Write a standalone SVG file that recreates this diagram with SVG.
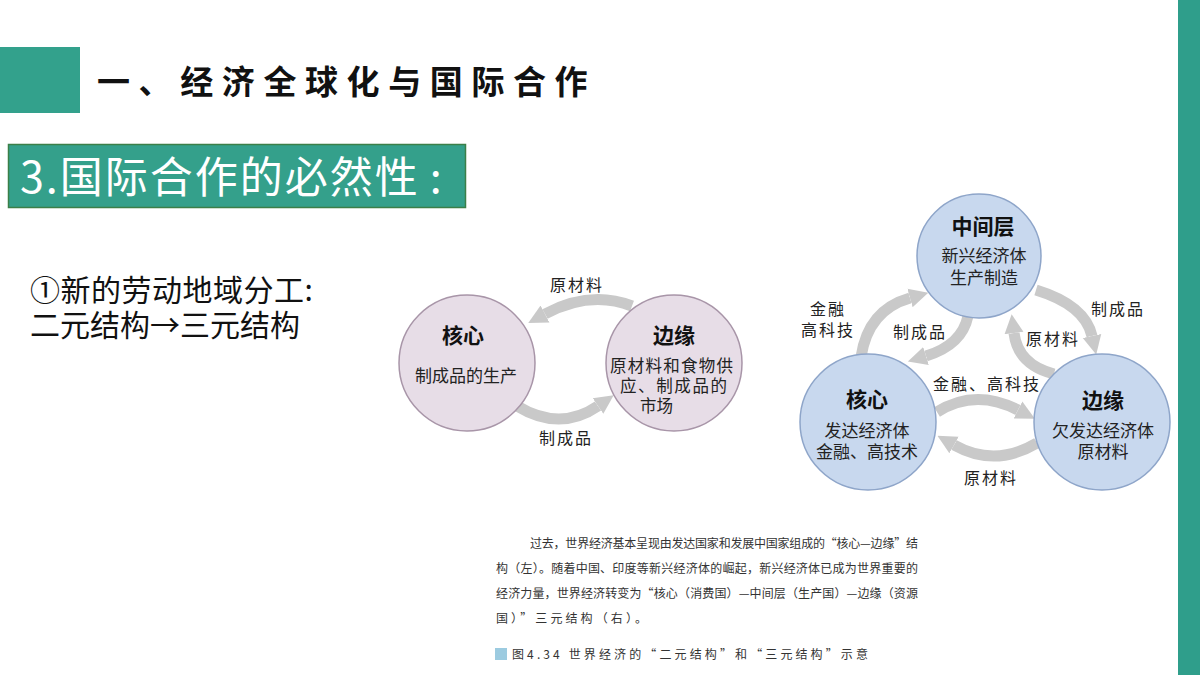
<svg xmlns="http://www.w3.org/2000/svg" width="1200" height="675" viewBox="0 0 1200 675">
<defs>
<style>
.cjk{font-family:"Noto Sans CJK SC","Liberation Sans",sans-serif}
.arr{fill:none;stroke:#c9c9c9;stroke-width:11;marker-end:url(#ah)}
.pc{fill:#e7dde7;stroke:#a895a8;stroke-width:1.5}
.bc{fill:#c8d8ee;stroke:#8ea5c9;stroke-width:1.5}
.ttl{font-size:21px;font-weight:bold;fill:#111;text-anchor:middle}
.sub{font-size:17px;fill:#222;text-anchor:middle}
.lbl{font-size:16px;fill:#222;text-anchor:middle;letter-spacing:2px}
.cap{font-size:12px;fill:#333}
</style>
<marker id="ah" viewBox="0 0 10 10" refX="0" refY="5" markerUnits="userSpaceOnUse" markerWidth="19" markerHeight="25" orient="auto">
<path d="M0,0 L10,5 L0,10 z" fill="#c9c9c9"/>
</marker>
</defs>
<rect width="1200" height="675" fill="#ffffff"/>
<rect x="1178" y="0" width="22" height="675" fill="#2f9e8b"/>
<g id="header">
<rect x="0" y="47" width="80" height="66" fill="#33a18c"/>
<text class="cjk" x="97" y="94" font-size="33" font-weight="bold" letter-spacing="8.6" fill="#111">一、经济全球化与国际合作</text>
</g>
<g id="subtitle">
<rect x="8.5" y="144.5" width="457" height="63" fill="#34a08b" stroke="#3b7f48" stroke-width="1.5"/>
<text class="cjk" x="20" y="193" font-size="43" letter-spacing="2" fill="#ffffff">3.国际合作的必然性<tspan dx="10">:</tspan></text>
</g>
<g id="point">
<text class="cjk" x="30" y="301" font-size="30" letter-spacing="0.5" fill="#111">①新的劳动地域分工:</text>
<text class="cjk" x="30" y="336" font-size="30" fill="#111">二元结构→三元结构</text>
</g>
<g id="connectors">
<path class="arr" d="M632,306 Q590,290 545,314"/>
<path class="arr" d="M517,406 Q560,432 598,406"/>
<path class="arr" d="M861,357 Q868,310 910,298"/>
<path class="arr" d="M968,316 Q962,345 926,356"/>
<path class="arr" d="M1036,290 Q1085,305 1092,336"/>
<path class="arr" d="M1054,374 Q1018,365 1014,333"/>
<path class="arr" d="M937,412 Q975,388 1018,410"/>
<path class="arr" d="M1037,443 Q995,468 954,445"/>
</g>
<g id="connector-labels" class="cjk">
<text class="lbl" x="577" y="291">原材料</text>
<text class="lbl" x="566" y="444">制成品</text>
<text class="lbl" x="828" y="315">金融</text>
<text class="lbl" x="828" y="336">高科技</text>
<text class="lbl" x="920" y="338">制成品</text>
<text class="lbl" x="1118" y="315">制成品</text>
<text class="lbl" x="1053" y="345">原材料</text>
<text class="lbl" x="987" y="390">金融、高科技</text>
<text class="lbl" x="991" y="484">原材料</text>
</g>
<g id="node-core2" class="cjk">
<circle class="pc" cx="467" cy="363" r="68"/>
<text class="ttl" x="463" y="343">核心</text>
<text class="sub" x="466" y="382">制成品的生产</text>
</g>
<g id="node-edge2" class="cjk">
<circle class="pc" cx="674" cy="363" r="68"/>
<text class="ttl" x="674" y="343">边缘</text>
<text font-size="16.5" fill="#222" x="610" y="372" textLength="123" lengthAdjust="spacing">原材料和食物供</text>
<text font-size="16.5" fill="#222" x="620" y="392" textLength="107" lengthAdjust="spacing">应、制成品的</text>
<text font-size="16.5" fill="#222" x="640" y="412">市场</text>
</g>
<g id="node-mid3" class="cjk">
<circle class="bc" cx="979" cy="256" r="62"/>
<text class="ttl" x="983" y="234">中间层</text>
<text class="sub" x="984" y="262">新兴经济体</text>
<text class="sub" x="984" y="284">生产制造</text>
</g>
<g id="node-core3" class="cjk">
<circle class="bc" cx="868" cy="422" r="68"/>
<text class="ttl" x="867" y="407">核心</text>
<text class="sub" x="867" y="437">发达经济体</text>
<text class="sub" x="867" y="458">金融、高技术</text>
</g>
<g id="node-edge3" class="cjk">
<circle class="bc" cx="1102" cy="422" r="68"/>
<text class="ttl" x="1103" y="408">边缘</text>
<text class="sub" x="1103" y="437">欠发达经济体</text>
<text class="sub" x="1103" y="458">原材料</text>
</g>
<g id="caption" class="cjk">
<text class="cap" x="530" y="548" textLength="388" lengthAdjust="spacing">过去，世界经济基本呈现由发达国家和发展中国家组成的“核心—边缘”结</text>
<text class="cap" x="496" y="573" textLength="422" lengthAdjust="spacing">构（左）。随着中国、印度等新兴经济体的崛起，新兴经济体已成为世界重要的</text>
<text class="cap" x="496" y="598" textLength="422" lengthAdjust="spacing">经济力量，世界经济转变为“核心（消费国）—中间层（生产国）—边缘（资源</text>
<text class="cap" x="496" y="623" textLength="151" lengthAdjust="spacing">国）”三元结构（右）。</text>
<rect x="495" y="648" width="12" height="12" fill="#9ccbe0"/>
<text class="cap" x="512" y="659" font-size="13.5" textLength="356" lengthAdjust="spacing">图4.34  世界经济的“二元结构”和“三元结构”示意</text>
</g>
</svg>
